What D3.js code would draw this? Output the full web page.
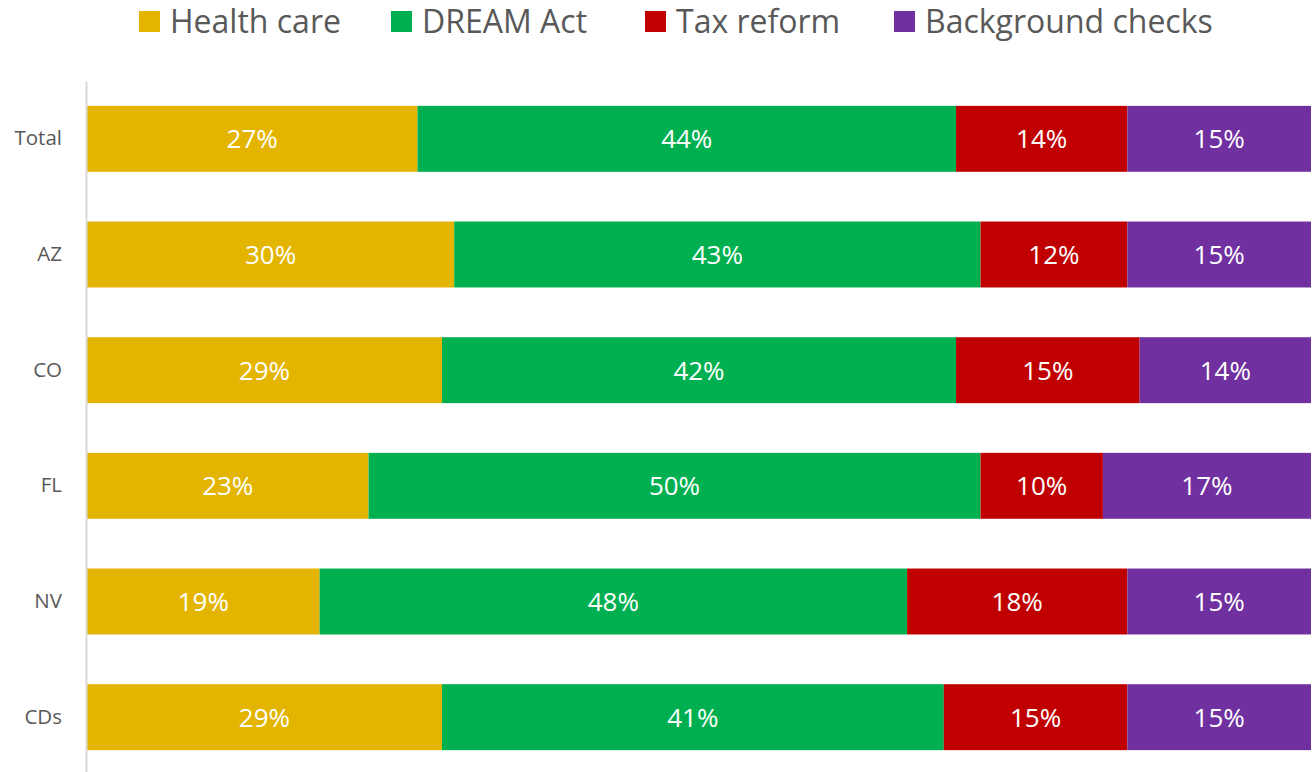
<!DOCTYPE html>
<html>
<head>
<meta charset="utf-8">
<script src="https://cdn.jsdelivr.net/npm/d3@7"></script>
<style>
  body { margin: 0; background: #fff; }
  text { font-family: "Open Sans", "Liberation Sans", sans-serif; }
</style>
</head>
<body>
<div id="graph"></div>
<script>
// Chart data
const categories = ['Total', 'AZ', 'CO', 'FL', 'NV', 'CDs'];
const seriesNames = ['Health care', 'DREAM Act', 'Tax reform', 'Background checks'];
const seriesColors = ['#e3b500', '#00b050', '#c00000', '#7030a0'];
const healthCare = [27, 30, 29, 23, 19, 29];
const dreamAct = [44, 43, 42, 50, 48, 41];
const taxReform = [14, 12, 15, 10, 18, 15];
const backgroundChecks = [15, 15, 14, 17, 15, 15];

const width = 1313;
const height = 772;
const margin = { top: 81, right: 2, bottom: -3, left: 87 };

const svg = d3.select('#graph').append('svg')
    .attr('width', width)
    .attr('height', height);

// Build rows for the stack
const rows = categories.map((c, i) => ({
    cat: c,
    'Health care': healthCare[i],
    'DREAM Act': dreamAct[i],
    'Tax reform': taxReform[i],
    'Background checks': backgroundChecks[i]
}));

const stack = d3.stack().keys(seriesNames)(rows);

const xScale = d3.scaleLinear()
    .domain([0, 100])
    .range([margin.left, width - margin.right]);

const yScale = d3.scaleBand()
    .domain(categories)
    .range([margin.top, height - margin.bottom])
    .paddingInner(0.43)
    .paddingOuter(0.215);

const color = d3.scaleOrdinal().domain(seriesNames).range(seriesColors);

// Bars
const groups = svg.selectAll('.series')
    .data(stack)
    .enter().append('g')
    .attr('class', 'series')
    .attr('fill', d => color(d.key));

groups.selectAll('rect')
    .data(d => d)
    .enter().append('rect')
    .attr('x', d => xScale(d[0]))
    .attr('y', d => yScale(d.data.cat))
    .attr('width', d => xScale(d[1]) - xScale(d[0]))
    .attr('height', yScale.bandwidth());

// Value labels
groups.selectAll('.val')
    .data(d => d)
    .enter().append('text')
    .attr('class', 'val')
    .attr('x', d => (xScale(d[0]) + xScale(d[1])) / 2)
    .attr('y', d => yScale(d.data.cat) + yScale.bandwidth() / 2)
    .attr('dy', '0.36em')
    .attr('text-anchor', 'middle')
    .attr('fill', '#fff')
    .style('font-size', '26px')
    .text(d => (d[1] - d[0]) + '%');

// Y axis
const yAxis = svg.append('g')
    .attr('transform', `translate(${margin.left - 1}, 0)`)
    .call(d3.axisLeft(yScale).tickSize(0).tickPadding(24));
yAxis.select('.domain').attr('stroke', '#d9d9d9').attr('stroke-width', 2);
yAxis.selectAll('text')
    .attr('fill', '#595959')
    .style('font-size', '20.5px');

// Legend
const legendX = [139, 391, 645, 894];
const legend = svg.append('g');
const items = legend.selectAll('g')
    .data(seriesNames)
    .enter().append('g')
    .attr('transform', (d, i) => `translate(${legendX[i]}, 0)`);
items.append('rect')
    .attr('x', 0).attr('y', 11)
    .attr('width', 21).attr('height', 21)
    .attr('fill', d => color(d));
items.append('text')
    .attr('x', 31).attr('y', 21)
    .attr('dy', '0.36em')
    .attr('fill', '#595959')
    .style('font-size', '32px')
    .text(d => d);
</script>
</body>
</html>
